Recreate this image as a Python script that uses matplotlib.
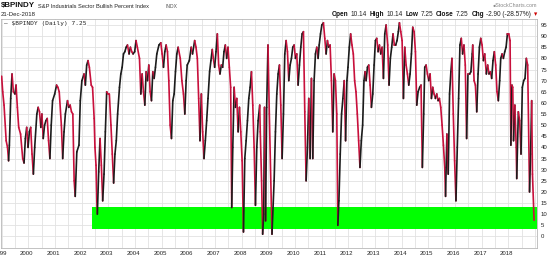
import matplotlib
matplotlib.use("Agg")
import matplotlib.pyplot as plt
import matplotlib.transforms as mtransforms
from matplotlib.collections import LineCollection
import numpy as np

# ====== Configuration ====== #
OUT_PATH = "out.png"
FIG_W, FIG_H = 550, 260
DPI = 100
FONT = ["Liberation Sans", "DejaVu Sans"]
MONO = "DejaVu Sans Mono"
UP_COLOR = "#1c1c1c"
DOWN_COLOR = "#c8103c"
BAND_COLOR = "#00ff00"
GRID_COLOR = "#e2e2e2"
TEXT_COLOR = "#222222"
X_MIN, X_MAX = 1998.976, 2019.08
Y_MIN, Y_MAX = -5.2, 97.7

# ====== Data ====== #
DATES = [
    1999.00, 1999.04, 1999.09, 1999.17, 1999.22, 1999.26, 1999.29, 1999.34, 1999.39, 1999.44,
    1999.50, 1999.54, 1999.59, 1999.64, 1999.71, 1999.79, 1999.84, 1999.89, 1999.94, 1999.99,
    2000.04, 2000.09, 2000.14, 2000.19, 2000.24, 2000.32, 2000.37, 2000.42, 2000.47, 2000.51,
    2000.56, 2000.61, 2000.66, 2000.71, 2000.76, 2000.81, 2000.86, 2000.91, 2000.99, 2001.06,
    2001.11, 2001.16, 2001.24, 2001.29, 2001.34, 2001.39, 2001.47, 2001.52, 2001.57, 2001.62,
    2001.67, 2001.72, 2001.76, 2001.82, 2001.90, 2001.95, 2002.01, 2002.09, 2002.14, 2002.19,
    2002.24, 2002.29, 2002.36, 2002.41, 2002.47, 2002.50,
    2002.54, 2002.57, 2002.59, 2002.64, 2002.69, 2002.74, 2002.79, 2002.84, 2002.89, 2002.94,
    2002.99, 2003.04, 2003.10, 2003.15, 2003.20, 2003.25, 2003.30, 2003.35, 2003.42, 2003.47,
    2003.52, 2003.57, 2003.62, 2003.67, 2003.72, 2003.78, 2003.83, 2003.88, 2003.93, 2003.99,
    2004.04, 2004.09, 2004.17, 2004.22, 2004.27, 2004.32, 2004.37, 2004.42, 2004.47, 2004.52,
    2004.57, 2004.62, 2004.67, 2004.72, 2004.77, 2004.82, 2004.90, 2004.97, 2005.02, 2005.07,
    2005.12, 2005.17, 2005.22, 2005.27, 2005.32, 2005.37, 2005.42, 2005.47, 2005.52, 2005.57,
    2005.62,
    2005.70, 2005.76, 2005.82, 2005.87, 2005.92, 2005.96, 2006.04, 2006.11, 2006.16, 2006.24,
    2006.29, 2006.34, 2006.39, 2006.44, 2006.49, 2006.54, 2006.59, 2006.64, 2006.69, 2006.74,
    2006.80, 2006.85, 2006.90, 2006.94, 2006.99, 2007.04, 2007.09, 2007.14, 2007.19, 2007.24,
    2007.29, 2007.34, 2007.39, 2007.44, 2007.49, 2007.54, 2007.59, 2007.63, 2007.67, 2007.72,
    2007.77, 2007.82, 2007.87, 2007.92, 2007.97, 2008.02, 2008.07, 2008.12, 2008.17, 2008.22,
    2008.27, 2008.32, 2008.37, 2008.42, 2008.47, 2008.52, 2008.57, 2008.62, 2008.68, 2008.70,
    2008.75, 2008.79, 2008.83, 2008.86, 2008.90, 2008.94, 2008.99, 2009.04, 2009.14,
    2009.22, 2009.27, 2009.32, 2009.37, 2009.42, 2009.47, 2009.52, 2009.57, 2009.62, 2009.67,
    2009.72, 2009.77, 2009.82, 2009.87, 2009.92, 2009.97, 2010.02, 2010.07, 2010.12, 2010.17,
    2010.22, 2010.27, 2010.32, 2010.37, 2010.42, 2010.47, 2010.52, 2010.57, 2010.62, 2010.67,
    2010.72, 2010.77, 2010.82, 2010.87, 2010.91, 2010.96, 2011.01, 2011.07, 2011.12, 2011.17,
    2011.22, 2011.27, 2011.32, 2011.37, 2011.42, 2011.47, 2011.52, 2011.57, 2011.61, 2011.65,
    2011.70, 2011.75, 2011.80, 2011.85, 2011.90, 2011.95, 2011.99, 2012.04, 2012.09, 2012.14,
    2012.19, 2012.24, 2012.29, 2012.34, 2012.39, 2012.44, 2012.49, 2012.54, 2012.59, 2012.63,
    2012.67, 2012.72, 2012.77, 2012.82, 2012.87, 2012.92, 2012.97, 2013.02, 2013.07, 2013.12,
    2013.17, 2013.22, 2013.27, 2013.32, 2013.37, 2013.42, 2013.48, 2013.53, 2013.58, 2013.63,
    2013.68, 2013.73, 2013.78, 2013.83, 2013.88, 2013.92, 2013.97, 2014.02, 2014.07, 2014.12,
    2014.17, 2014.22, 2014.27, 2014.32, 2014.37, 2014.42, 2014.47, 2014.52, 2014.57, 2014.62,
    2014.68, 2014.73, 2014.78, 2014.83, 2014.87, 2014.92, 2014.97, 2015.02, 2015.07, 2015.12,
    2015.17, 2015.22, 2015.27, 2015.32, 2015.37, 2015.42, 2015.47, 2015.52, 2015.57, 2015.62,
    2015.65, 2015.70, 2015.75, 2015.80, 2015.85, 2015.89, 2015.94,
    2015.99, 2016.04, 2016.09, 2016.14, 2016.19, 2016.24, 2016.29, 2016.34, 2016.39, 2016.44,
    2016.49, 2016.55, 2016.60, 2016.65, 2016.67, 2016.72, 2016.77, 2016.82, 2016.87, 2016.92,
    2016.97, 2017.02, 2017.07, 2017.12, 2017.18, 2017.23, 2017.28, 2017.33, 2017.38, 2017.43,
    2017.48, 2017.53, 2017.58, 2017.63, 2017.68, 2017.72, 2017.77, 2017.82, 2017.87, 2017.92,
    2017.97, 2018.02, 2018.07, 2018.10, 2018.14, 2018.17, 2018.20, 2018.25, 2018.30, 2018.32,
    2018.38, 2018.43, 2018.48, 2018.53, 2018.58, 2018.63, 2018.68, 2018.73, 2018.80, 2018.84,
    2018.88, 2018.91, 2018.97,
]

BPI = [
    72, 65, 59, 43, 40, 34, 41, 62, 73, 65,
    64, 68, 58, 49, 46, 35, 33, 44, 49, 40,
    47, 49, 37, 28, 40, 55, 58, 56, 49, 55,
    44, 50, 52, 53, 43, 35, 50, 61, 64, 68,
    67, 65, 50, 35, 47, 55, 61, 58, 59, 56,
    55, 25, 18, 38, 41, 61, 70, 73, 68, 77,
    79, 76, 68, 67, 53, 40,
    32, 16, 10, 29, 44, 32, 16, 28, 47, 65,
    64, 64, 50, 37, 24, 37, 43, 55, 67, 73,
    76, 82, 83, 85, 86, 82, 85, 83, 82, 83,
    88, 85, 80, 64, 73, 65, 59, 74, 70, 77,
    65, 61, 74, 71, 76, 82, 86, 87, 82, 76,
    83, 86, 83, 70, 50, 44, 61, 64, 74, 82,
    85,
    80, 70, 64, 55, 70, 77, 79, 85, 82, 88,
    85, 80, 62, 43, 64, 47, 35, 43, 52, 62,
    74, 79, 84, 80, 76, 83, 91, 77, 73, 77,
    76, 83, 86, 80, 85, 76, 67, 13, 40, 67,
    58, 62, 47, 58, 47, 34, 2, 35, 43, 52,
    62, 67, 74, 59, 40, 14, 40, 52, 59, 47,
    25, 1, 10, 58, 7, 58, 86, 55, 1,
    25, 47, 64, 73, 77, 59, 35, 55, 82, 88,
    83, 70, 77, 80, 85, 86, 80, 82, 68, 77,
    85, 91, 92, 56, 25, 40, 62, 35, 71, 35,
    70, 82, 85, 80, 86, 91, 95, 96, 89, 82,
    88, 85, 86, 70, 47, 73, 70, 55, 5, 16,
    37, 55, 62, 70, 43, 70, 76, 85, 91, 86,
    82, 70, 65, 55, 43, 31, 43, 50, 70, 74,
    70, 76, 77, 68, 58, 64, 77, 88, 89, 83,
    86, 82, 85, 71, 91, 95, 86, 68, 80, 85,
    91, 86, 86, 88, 92, 96, 92, 88, 62, 85,
    77, 73, 68, 73, 82, 94, 92, 83, 59, 65,
    67, 68, 31, 55, 76, 77, 73, 70, 73, 62,
    67, 64, 62, 64, 61, 62, 58, 50, 41, 31,
    18, 46, 28, 64, 74, 80, 55,
    34, 16, 40, 62, 86, 89, 82, 86, 77, 44,
    73, 73, 74, 82, 86, 70, 68, 56, 73, 85,
    89, 86, 79, 82, 73, 77, 73, 74, 71, 79,
    83, 77, 65, 61, 70, 80, 82, 80, 83, 85,
    91, 91, 88, 41, 68, 67, 43, 59, 40, 26,
    56, 52, 37, 67, 70, 71, 80, 77, 20, 37,
    61, 28, 7.25,
]

YEAR_TICKS = list(range(1999, 2019))
Y_TICKS = list(range(0, 100, 5))

# highlighted oversold zone
BAND_START = 2002.39
BAND_LOW, BAND_HIGH = 3.5, 13.0

SYMBOL = "$BPINDY"
TITLE = "S&P Industrials Sector Bullish Percent Index"
EXCHANGE = "INDX"
DATE_STR = "21-Dec-2018"
LEGEND_STR = "$BPINDY (Daily) 7.25"
STATS = [("Open", "10.14"), ("High", "10.14"), ("Low", "7.25"),
         ("Close", "7.25"), ("Chg", "-2.90 (-28.57%)")]

assert len(DATES) == len(BPI)


def px(x, y):
    # pixel position (from top-left) -> figure fraction
    return x / FIG_W, 1 - y / FIG_H


# ====== Figure ====== #
fig = plt.figure(figsize=(FIG_W / DPI, FIG_H / DPI), dpi=DPI)
fig.patch.set_facecolor("white")
ax = fig.add_axes([1 / FIG_W, 12 / FIG_H, 536 / FIG_W, 229 / FIG_H])
ax.set_xlim(X_MIN, X_MAX)
ax.set_ylim(Y_MIN, Y_MAX)

# grid
ax.set_xticks(YEAR_TICKS)
ax.set_xticks(np.arange(1999, 2019.5, 0.5), minor=True)
ax.set_yticks(Y_TICKS)
ax.grid(which="both", axis="x", color=GRID_COLOR, lw=0.6, zorder=0)
ax.grid(which="major", axis="y", color=GRID_COLOR, lw=0.6, zorder=0)
ax.set_axisbelow(True)

ax.yaxis.tick_right()
ax.tick_params(which="both", length=0)
ax.tick_params(axis="y", labelsize=4.3, pad=2.5, labelcolor=TEXT_COLOR)
ax.tick_params(axis="x", labelsize=4.3, pad=2.2, labelcolor=TEXT_COLOR)
ax.set_xticklabels([str(y) for y in YEAR_TICKS], family=FONT)
for lbl in ax.get_yticklabels():
    lbl.set_family(FONT)
shift = mtransforms.ScaledTranslation(-1.5 / DPI, 0, fig.dpi_scale_trans)
for lbl in ax.get_xticklabels():
    lbl.set_transform(lbl.get_transform() + shift)

for s in ax.spines.values():
    s.set_color("#b8b8b8")
    s.set_linewidth(0.6)

# green zone
ax.fill_between([BAND_START, X_MAX], BAND_LOW, BAND_HIGH,
                color=BAND_COLOR, lw=0, zorder=1)

# price line: black when rising, red when falling
pts = np.column_stack([DATES, BPI])
segs = np.stack([pts[:-1], pts[1:]], axis=1)
cols = [UP_COLOR if b > a else DOWN_COLOR for a, b in zip(BPI[:-1], BPI[1:])]
ax.add_collection(LineCollection(segs, colors=cols, linewidths=1.2,
                                 capstyle="round", joinstyle="round", zorder=3))

# ====== Header texts ====== #
fig.text(*px(1, 6), SYMBOL, fontsize=5.7, fontweight="bold", family=FONT,
         va="center", ha="left", color="#111111", parse_math=False)
fig.text(*px(38, 6), TITLE, fontsize=4.1, family=FONT, va="center", ha="left",
         color=TEXT_COLOR)
fig.text(*px(165, 6), EXCHANGE, fontsize=3.6, family=FONT, va="center", ha="left",
         color="#555555")
fig.text(*px(1, 14.5), DATE_STR, fontsize=4.3, family=FONT, va="center", ha="left",
         color=TEXT_COLOR)
fig.text(*px(537, 5.5), "\u25cfStockCharts.com", fontsize=3.9, family=FONT,
         va="center", ha="right", color="#888888")

# legend inside the plot
ax.text(3 / 536, 1 - 4 / 229, "\u2014 " + LEGEND_STR, transform=ax.transAxes,
        fontsize=4.4, family=MONO, va="center", ha="left", color=TEXT_COLOR,
        parse_math=False, zorder=5,
        bbox=dict(boxstyle="square,pad=0.15", fc="white", ec="none"))

# stats line, drawn right to left so it ends at the plot's right edge
renderer = fig.canvas.get_renderer()
runs = []
for name, val in STATS:
    runs.append((name, "bold", "#111111"))
    runs.append((val, "normal", TEXT_COLOR))
runs.append(("\u25be", "normal", "#cc0000"))
x = 537
for text, weight, color in reversed(runs):
    t = fig.text(*px(x, 15), text, fontsize=4.7, fontweight=weight, family=FONT,
                 va="center", ha="right", color=color)
    x = t.get_window_extent(renderer).x0 - 2.5

fig.savefig(OUT_PATH, dpi=DPI)
print(f"Done: {OUT_PATH}")
